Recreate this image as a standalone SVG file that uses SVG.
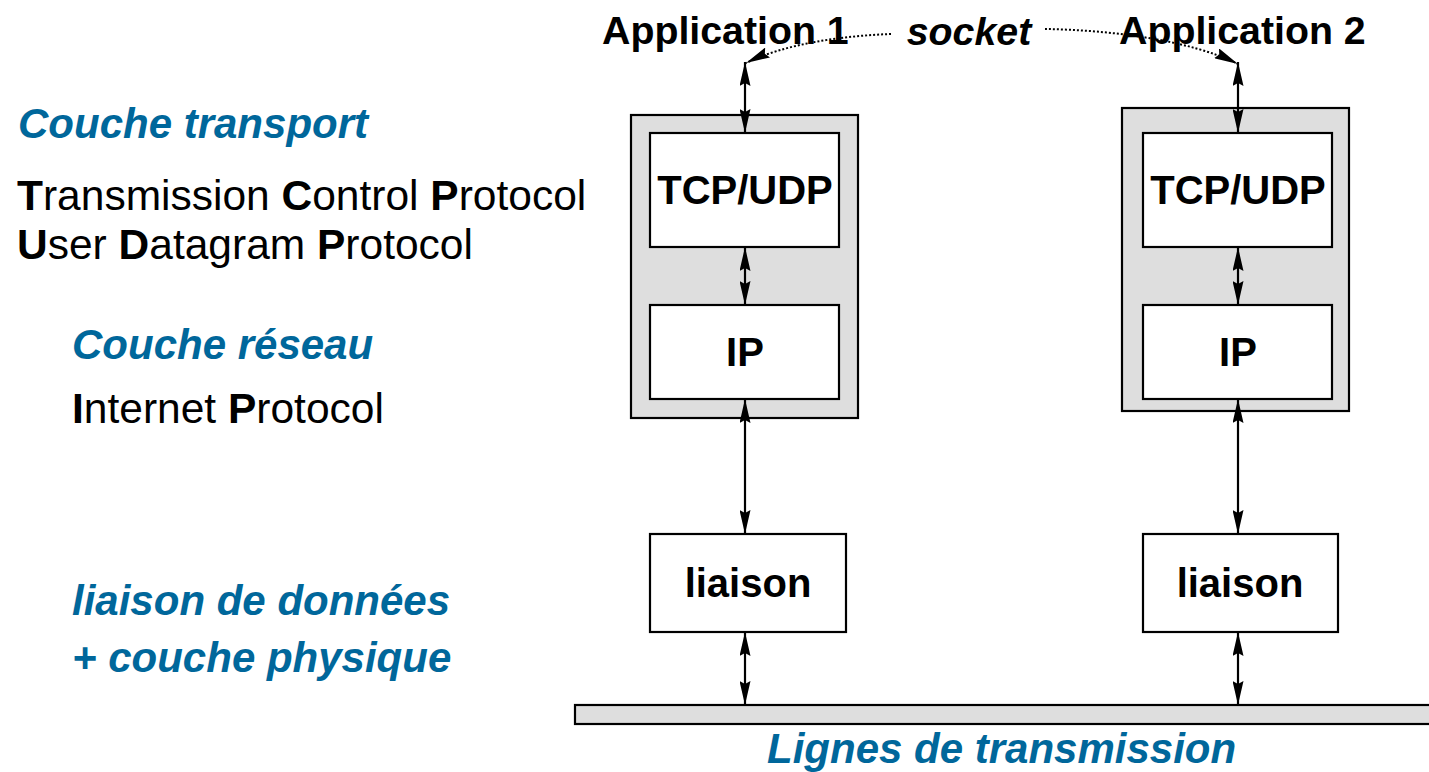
<svg xmlns="http://www.w3.org/2000/svg" width="1429" height="772" viewBox="0 0 1429 772">
  <style>
    text { font-family: "Liberation Sans", Arial, sans-serif; }
    .lbl { font-weight: bold; font-size: 40px; fill: #000; text-anchor: middle; }
    .app { font-weight: bold; font-size: 39.3px; fill: #000; }
    .blue { font-weight: bold; font-style: italic; font-size: 42px; fill: #00679b; }
    .plain { font-size: 42.5px; fill: #000; }
    .b { font-weight: bold; }
    .outer { fill: #dedede; stroke: #000; stroke-width: 2.2; }
    .box { fill: #fff; stroke: #000; stroke-width: 2.2; }
    .bus { fill: #dedede; stroke: #000; stroke-width: 2.2; }
    .link { fill: none; stroke: #000; stroke-width: 2.2; marker-start: url(#ah); marker-end: url(#ah); }
    .dot { fill: none; stroke: #000; stroke-width: 2; stroke-dasharray: 2 2; marker-end: url(#ah); }
  </style>
  <defs>
    <!-- narrow filled arrowhead, tip at the line end -->
    <marker id="ah" markerUnits="userSpaceOnUse" viewBox="0 0 24 11" markerWidth="24" markerHeight="11" refX="24" refY="5.5" orient="auto-start-reverse">
      <path d="M0,0 L24,5.5 L0,11 L3,5.5 z" fill="#000"/>
    </marker>
  </defs>

  <!-- layer captions on the left -->
  <g id="captions">
    <text class="blue" x="18" y="138">Couche transport</text>
    <text class="plain" x="17" y="210"><tspan class="b">T</tspan>ransmission <tspan class="b">C</tspan>ontrol <tspan class="b">P</tspan>rotocol</text>
    <text class="plain" x="17" y="259"><tspan class="b">U</tspan>ser <tspan class="b">D</tspan>atagram <tspan class="b">P</tspan>rotocol</text>
    <text class="blue" x="72" y="359">Couche réseau</text>
    <text class="plain" x="72" y="423"><tspan class="b">I</tspan>nternet <tspan class="b">P</tspan>rotocol</text>
    <text class="blue" x="72" y="615">liaison de données</text>
    <text class="blue" x="72" y="672">+ couche physique</text>
  </g>

  <!-- host 1 -->
  <g id="app1"><text class="app" x="602" y="44">Application 1</text></g>
  <g id="host1-stack">
    <rect class="outer" x="631" y="115" width="227" height="303"/>
  </g>
  <g id="host1-tcp">
    <rect class="box" x="650" y="133" width="189" height="114"/>
    <text class="lbl" x="745" y="204">TCP/UDP</text>
  </g>
  <g id="host1-ip">
    <rect class="box" x="650" y="305" width="189" height="94"/>
    <text class="lbl" x="745" y="366">IP</text>
  </g>
  <g id="host1-link">
    <rect class="box" x="650" y="534" width="196" height="98"/>
    <text class="lbl" x="748" y="597">liaison</text>
  </g>

  <!-- host 2 -->
  <g id="app2"><text class="app" x="1119" y="44">Application 2</text></g>
  <g id="host2-stack">
    <rect class="outer" x="1122" y="108" width="227" height="303"/>
  </g>
  <g id="host2-tcp">
    <rect class="box" x="1143" y="133" width="189" height="114"/>
    <text class="lbl" x="1238" y="204">TCP/UDP</text>
  </g>
  <g id="host2-ip">
    <rect class="box" x="1143" y="305" width="189" height="94"/>
    <text class="lbl" x="1238" y="366">IP</text>
  </g>
  <g id="host2-link">
    <rect class="box" x="1143" y="534" width="195" height="98"/>
    <text class="lbl" x="1240" y="597">liaison</text>
  </g>

  <!-- socket label -->
  <g id="socket">
    <text class="app" x="969" y="45" text-anchor="middle" font-style="italic">socket</text>
  </g>

  <!-- transmission line -->
  <g id="bus">
    <rect class="bus" x="575" y="705" width="870" height="19"/>
    <text class="blue" x="767" y="763" font-size="42.5">Lignes de transmission</text>
  </g>

  <!-- connectors -->
  <g id="connectors">
    <line class="link" x1="745" y1="62" x2="745" y2="133"/>
    <line class="link" x1="745" y1="247" x2="745" y2="305"/>
    <line class="link" x1="745" y1="399" x2="745" y2="534"/>
    <line class="link" x1="745" y1="632" x2="745" y2="705"/>
    <line class="link" x1="1238" y1="62" x2="1238" y2="133"/>
    <line class="link" x1="1238" y1="247" x2="1238" y2="305"/>
    <line class="link" x1="1238" y1="399" x2="1238" y2="534"/>
    <line class="link" x1="1238" y1="632" x2="1238" y2="705"/>
    <path class="dot" d="M891,34 C840,36 785,44 746,63"/>
    <path class="dot" d="M1045,29 C1110,30 1190,40 1238,64"/>
  </g>
</svg>
